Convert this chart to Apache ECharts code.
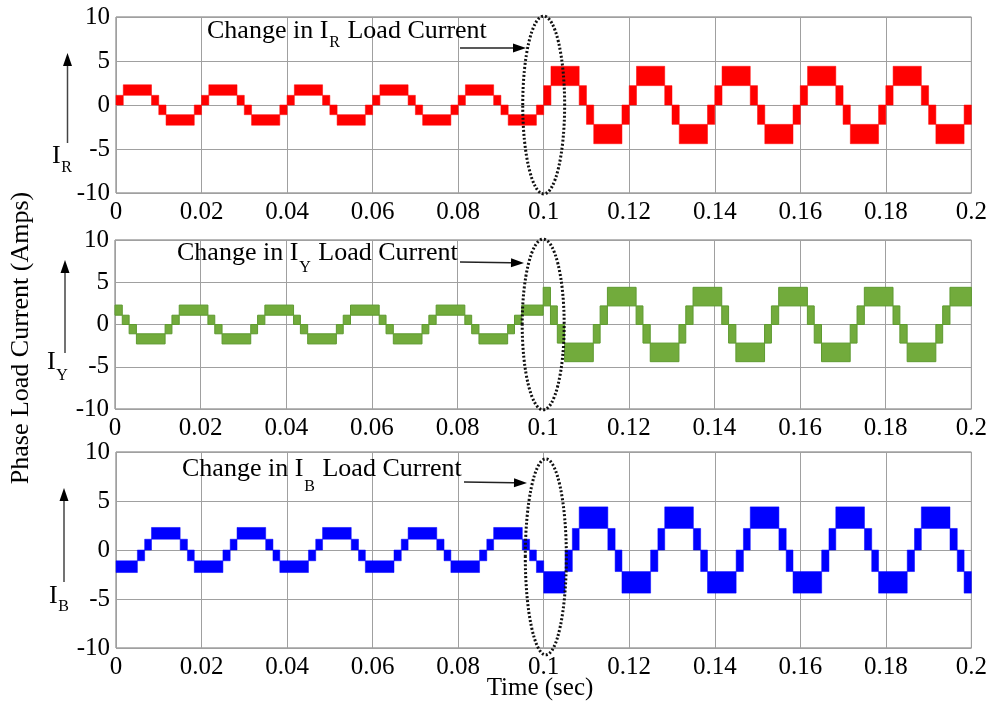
<!DOCTYPE html>
<html>
<head>
<meta charset="utf-8">
<script src="https://cdn.jsdelivr.net/npm/echarts@6/dist/echarts.min.js"></script>
<style>
  html, body { margin: 0; padding: 0; background: #fff; }
  #main { width: 990px; height: 705px; }
</style>
</head>
<body>
<div id="main"></div>
<script>
// step edges in ms, band (low/high) in Amps for each segment between edges
var edgesR = [0, 1.7, 8.3, 10, 11.7, 18.3,
  20, 21.7, 28.3, 30, 31.7, 38.3,
  40, 41.7, 48.3, 50, 51.7, 58.3,
  60, 61.7, 68.3, 70, 71.7, 78.3,
  80, 81.7, 88.3, 90, 91.7, 98.3,
  100, 101.7, 108.3, 110, 111.7, 118.3,
  120, 121.7, 128.3, 130, 131.7, 138.3,
  140, 141.7, 148.3, 150, 151.7, 158.3,
  160, 161.7, 168.3, 170, 171.7, 178.3,
  180, 181.7, 188.3, 190, 191.7, 198.3,
  200];
var lowR = [0, 1.1, 0, -1.1, -2.3, -1.1,
  0, 1.1, 0, -1.1, -2.3, -1.1,
  0, 1.1, 0, -1.1, -2.3, -1.1,
  0, 1.1, 0, -1.1, -2.3, -1.1,
  0, 1.1, 0, -1.1, -2.3, -1.1,
  0, 2.2, 0, -2.2, -4.4, -2.2,
  0, 2.2, 0, -2.2, -4.4, -2.2,
  0, 2.2, 0, -2.2, -4.4, -2.2,
  0, 2.2, 0, -2.2, -4.4, -2.2,
  0, 2.2, 0, -2.2, -4.4, -2.2];
var highR = [1.1, 2.3, 1.1, 0, -1.1, 0,
  1.1, 2.3, 1.1, 0, -1.1, 0,
  1.1, 2.3, 1.1, 0, -1.1, 0,
  1.1, 2.3, 1.1, 0, -1.1, 0,
  1.1, 2.3, 1.1, 0, -1.1, 0,
  2.2, 4.4, 2.2, 0, -2.2, 0,
  2.2, 4.4, 2.2, 0, -2.2, 0,
  2.2, 4.4, 2.2, 0, -2.2, 0,
  2.2, 4.4, 2.2, 0, -2.2, 0,
  2.2, 4.4, 2.2, 0, -2.2, 0];

var edgesY = [0,
  1.7, 3.3, 5, 11.7, 13.3, 15,
  21.7, 23.3, 25, 31.7, 33.3, 35,
  41.7, 43.3, 45, 51.7, 53.3, 55,
  61.7, 63.3, 65, 71.7, 73.3, 75,
  81.7, 83.3, 85, 91.7, 93.3, 95,
  100,
  101.7, 103.3, 105, 111.7, 113.3, 115,
  121.7, 123.3, 125, 131.7, 133.3, 135,
  141.7, 143.3, 145, 151.7, 153.3, 155,
  161.7, 163.3, 165, 171.7, 173.3, 175,
  181.7, 183.3, 185, 191.7, 193.3, 195,
  200];
var lowY = [1.1,
  0, -1.1, -2.3, -1.1, 0, 1.1,
  0, -1.1, -2.3, -1.1, 0, 1.1,
  0, -1.1, -2.3, -1.1, 0, 1.1,
  0, -1.1, -2.3, -1.1, 0, 1.1,
  0, -1.1, -2.3, -1.1, 0, 1.1,
  2.2,
  0, -2.2, -4.4, -2.2, 0, 2.2,
  0, -2.2, -4.4, -2.2, 0, 2.2,
  0, -2.2, -4.4, -2.2, 0, 2.2,
  0, -2.2, -4.4, -2.2, 0, 2.2,
  0, -2.2, -4.4, -2.2, 0, 2.2];
var highY = [2.3,
  1.1, 0, -1.1, 0, 1.1, 2.3,
  1.1, 0, -1.1, 0, 1.1, 2.3,
  1.1, 0, -1.1, 0, 1.1, 2.3,
  1.1, 0, -1.1, 0, 1.1, 2.3,
  1.1, 0, -1.1, 0, 1.1, 2.3,
  4.4,
  2.2, 0, -2.2, 0, 2.2, 4.4,
  2.2, 0, -2.2, 0, 2.2, 4.4,
  2.2, 0, -2.2, 0, 2.2, 4.4,
  2.2, 0, -2.2, 0, 2.2, 4.4,
  2.2, 0, -2.2, 0, 2.2, 4.4];

var edgesB = [0,
  5, 6.7, 8.3, 15, 16.7, 18.3,
  25, 26.7, 28.3, 35, 36.7, 38.3,
  45, 46.7, 48.3, 55, 56.7, 58.3,
  65, 66.7, 68.3, 75, 76.7, 78.3,
  85, 86.7, 88.3, 95, 96.7, 98.3,
  100,
  105, 106.7, 108.3, 115, 116.7, 118.3,
  125, 126.7, 128.3, 135, 136.7, 138.3,
  145, 146.7, 148.3, 155, 156.7, 158.3,
  165, 166.7, 168.3, 175, 176.7, 178.3,
  185, 186.7, 188.3, 195, 196.7, 198.3,
  200];
var lowB = [-2.3,
  -1.1, 0, 1.1, 0, -1.1, -2.3,
  -1.1, 0, 1.1, 0, -1.1, -2.3,
  -1.1, 0, 1.1, 0, -1.1, -2.3,
  -1.1, 0, 1.1, 0, -1.1, -2.3,
  -1.1, 0, 1.1, 0, -1.1, -2.3,
  -4.4,
  -2.2, 0, 2.2, 0, -2.2, -4.4,
  -2.2, 0, 2.2, 0, -2.2, -4.4,
  -2.2, 0, 2.2, 0, -2.2, -4.4,
  -2.2, 0, 2.2, 0, -2.2, -4.4,
  -2.2, 0, 2.2, 0, -2.2, -4.4];
var highB = [-1.1,
  0, 1.1, 2.3, 1.1, 0, -1.1,
  0, 1.1, 2.3, 1.1, 0, -1.1,
  0, 1.1, 2.3, 1.1, 0, -1.1,
  0, 1.1, 2.3, 1.1, 0, -1.1,
  0, 1.1, 2.3, 1.1, 0, -1.1,
  -2.2,
  0, 2.2, 4.4, 2.2, 0, -2.2,
  0, 2.2, 4.4, 2.2, 0, -2.2,
  0, 2.2, 4.4, 2.2, 0, -2.2,
  0, 2.2, 4.4, 2.2, 0, -2.2,
  0, 2.2, 4.4, 2.2, 0, -2.2];

var yTicks = [-10, -5, 0, 5, 10];
var phaseNames = ['R', 'Y', 'B'];

var FONT = 'Liberation Serif';
var myChart = echarts.init(document.getElementById('main'));

function bandRows (edges, low, high) {
  return low.map(function (lo, i) {
    return [edges[i] / 1000, edges[i + 1] / 1000, lo, high[i]];
  });
}

function renderBand (params, api) {
  var p0 = api.coord([api.value(0), api.value(3)]);
  var p1 = api.coord([api.value(1), api.value(2)]);
  var st = api.style();
  return {
    type: 'rect',
    shape: { x: p0[0], y: p0[1], width: p1[0] - p0[0], height: p1[1] - p0[1] },
    style: { fill: st.fill, stroke: params.seriesIndex === 1 ? '#5e9a30' : st.fill, lineWidth: params.seriesIndex === 1 ? 1 : 0.5 }
  };
}

// dotted ellipse around the load change instant
function renderEllipse (params, api) {
  var c = api.coord([api.value(0), api.value(1)]);
  var e = api.coord([api.value(0) + api.value(2), api.value(1) + api.value(3)]);
  return {
    type: 'ellipse',
    shape: { cx: c[0], cy: c[1], rx: e[0] - c[0], ry: c[1] - e[1] },
    style: { fill: 'none', stroke: '#111', lineWidth: 3, lineDash: [2, 2] },
    z2: 10
  };
}

var grids = [
  { left: 116, top: 17, width: 856, height: 176 },
  { left: 115, top: 240, width: 861, height: 169 },
  { left: 116, top: 452, width: 861, height: 196 }
];

var xAxes = [], yAxes = [];
grids.forEach(function (g, i) {
  g.show = true;
  g.borderColor = '#707070';
  g.borderWidth = 1;
  g.backgroundColor = 'transparent';
  xAxes.push({
    type: 'value', gridIndex: i, min: 0, max: 0.2, interval: 0.02,
    axisLine: { show: false }, axisTick: { show: false },
    splitLine: { show: true, lineStyle: { color: '#a0a0a0', width: 1 } },
    axisLabel: { margin: 7, color: '#000', fontFamily: FONT, fontSize: 25,
      formatter: function (v) { return String(+v.toFixed(2)); } }
  });
  yAxes.push({
    type: 'value', gridIndex: i, min: yTicks[0], max: yTicks[yTicks.length - 1], interval: 5,
    axisLine: { show: false }, axisTick: { show: false },
    splitLine: { show: true, lineStyle: { color: '#a0a0a0', width: 1 } },
    axisLabel: { margin: 6, color: '#000', fontFamily: FONT, fontSize: 25 }
  });
});

var ctx = document.createElement('canvas').getContext('2d');
function textWidth (s, size) {
  ctx.font = size + 'px "' + FONT + '"';
  return ctx.measureText(s).width;
}

function txt (s, x, y, size, align) {
  return { type: 'text', x: x, y: y, z: 100,
    style: { text: s, fontFamily: FONT, fontSize: size, fill: '#000', align: align || 'left', verticalAlign: 'middle' } };
}

// "Change in I_x Load Current" with subscript
function changeLabel (x, y, sub, subDy) {
  var w1 = textWidth('Change in I', 26);
  var w2 = textWidth(sub, 16);
  return [
    txt('Change in I', x, y, 26),
    txt(sub, x + w1 + 1, y + subDy, 16),
    txt(' Load Current', x + w1 + w2 + 2, y, 26)
  ];
}

function arrow (x1, y1, x2, y2, color) {
  var a = Math.atan2(y2 - y1, x2 - x1), L = 13, W = 4.5;
  var bx = x2 - L * Math.cos(a), by = y2 - L * Math.sin(a);
  var nx = -Math.sin(a) * W, ny = Math.cos(a) * W;
  return [
    { type: 'line', z: 100, shape: { x1: x1, y1: y1, x2: bx, y2: by }, style: { stroke: color || '#222', lineWidth: 1.5 } },
    { type: 'polygon', z: 100, shape: { points: [[x2, y2], [bx + nx, by + ny], [bx - nx, by - ny]] }, style: { fill: '#000' } }
  ];
}

function phaseLabel (x, y, sub, subDy) {
  return [txt('I', x, y, 26), txt(sub, x + textWidth('I', 26) + 0.5, y + subDy, 16)];
}

var graphics = []
  .concat(changeLabel(207, 31, phaseNames[0], 12))
  .concat(changeLabel(177, 253, phaseNames[1], 15))
  .concat(changeLabel(182, 469, phaseNames[2], 18))
  .concat(arrow(460, 48, 526, 48))
  .concat(arrow(460, 262, 524, 263))
  .concat(arrow(464, 482, 527, 483))
  .concat(arrow(67.5, 143, 67.5, 53, '#444'))
  .concat(arrow(65, 353, 65, 260, '#444'))
  .concat(arrow(64, 582, 64, 488, '#444'))
  .concat(phaseLabel(52, 156, phaseNames[0], 12))
  .concat(phaseLabel(47, 362, phaseNames[1], 14))
  .concat(phaseLabel(49, 596, phaseNames[2], 11))
  .concat([
    txt('Time (sec)', 540, 688, 25, 'center'),
    { type: 'text', x: 21, y: 338, rotation: Math.PI / 2, z: 100,
      style: { text: 'Phase Load Current (Amps)', fontFamily: FONT, fontSize: 26, fill: '#000', align: 'center', verticalAlign: 'middle' } }
  ]);

var option = {
  animation: false,
  backgroundColor: '#fff',
  grid: grids,
  xAxis: xAxes,
  yAxis: yAxes,
  graphic: graphics,
  series: [
    { name: 'IR', type: 'custom', xAxisIndex: 0, yAxisIndex: 0, renderItem: renderBand,
      itemStyle: { color: '#ff0000' }, encode: { x: [0, 1], y: [2, 3] }, data: bandRows(edgesR, lowR, highR) },
    { name: 'IY', type: 'custom', xAxisIndex: 1, yAxisIndex: 1, renderItem: renderBand,
      itemStyle: { color: '#72ab3c' }, encode: { x: [0, 1], y: [2, 3] }, data: bandRows(edgesY, lowY, highY) },
    { name: 'IB', type: 'custom', xAxisIndex: 2, yAxisIndex: 2, renderItem: renderBand,
      itemStyle: { color: '#0000ff' }, encode: { x: [0, 1], y: [2, 3] }, data: bandRows(edgesB, lowB, highB) },
    { type: 'custom', xAxisIndex: 0, yAxisIndex: 0, renderItem: renderEllipse, z: 5,
      encode: { x: 0, y: 1 }, data: [[0.1, 0, 0.0049, 10.1]] },
    { type: 'custom', xAxisIndex: 1, yAxisIndex: 1, renderItem: renderEllipse, z: 5,
      encode: { x: 0, y: 1 }, data: [[0.1, 0, 0.0049, 10.1]] },
    { type: 'custom', xAxisIndex: 2, yAxisIndex: 2, renderItem: renderEllipse, z: 5,
      encode: { x: 0, y: 1 }, data: [[0.1005, -0.7, 0.0048, 10]] }
  ]
};

myChart.setOption(option);
</script>
</body>
</html>
